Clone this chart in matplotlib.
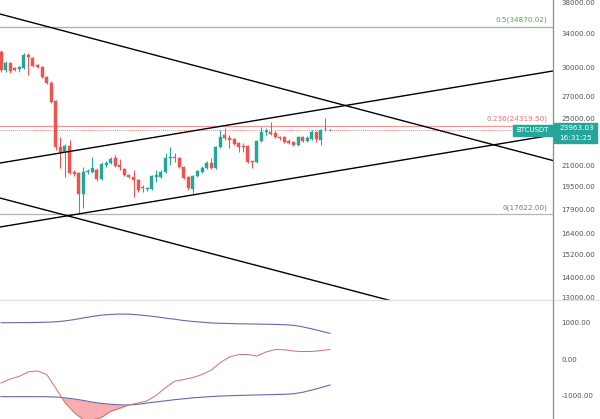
import numpy as np
import matplotlib
matplotlib.use("Agg")
import matplotlib.pyplot as plt
from matplotlib.patches import Rectangle
from matplotlib.lines import Line2D

# ---- candles (BTCUSDT) ----
opens = [31800, 29780, 30540, 29950, 29890, 29990, 31450, 31110, 30320, 30100,
         29030, 28400, 26600, 22510, 22100, 22590, 20510, 20470, 18960, 20510,
         20550, 20700, 20030, 21080, 21230, 21620, 21080, 20770, 20320, 20180,
         19950, 19420, 19280, 19310, 20210, 20180, 20550, 21580, 21660, 21620,
         20930, 20180, 19310, 20250, 20550, 20850, 21230, 20850, 22510, 23510,
         23260, 23170, 22830, 22550, 22590, 21350, 21310, 23000, 23720, 23770,
         23680, 23300, 23340, 23000, 22920, 22670, 23340, 23000, 23170, 23770,
         23080, 23990, 23900]
highs = [32030, 30770, 30660, 30100, 30210, 31680, 31680, 31220, 30430, 30210,
         29140, 28610, 26700, 23340, 22750, 23080, 20700, 20550, 20930, 20770,
         21700, 20850, 21310, 21380, 21700, 21860, 21540, 20850, 20400, 20700,
         20030, 19600, 19450, 20320, 20700, 20700, 22020, 22510, 22020, 21700,
         21000, 20250, 20320, 20700, 21000, 21380, 21620, 22590, 23940, 24110,
         23510, 23260, 22920, 22830, 22670, 21380, 23080, 24200, 24110, 24650,
         23850, 23430, 23430, 23170, 23000, 23430, 23430, 23430, 23940, 23850,
         24030, 25000, 24010]
lows = [29560, 29560, 29460, 29670, 29560, 29890, 29240, 30100, 29990, 28920,
        28300, 26410, 22260, 20850, 20180, 20400, 20250, 17622, 18020, 20400,
        20470, 19880, 19950, 20930, 21150, 20930, 20700, 20250, 20100, 18760,
        19100, 19100, 19170, 19240, 19810, 20100, 20470, 21080, 21310, 20850,
        20030, 19240, 19030, 20180, 20470, 20770, 20770, 20770, 22420, 23080,
        22420, 22670, 22100, 22100, 21230, 20850, 21230, 22920, 23510, 23510,
        23260, 23080, 22830, 22750, 22590, 22590, 22920, 22920, 23080, 22920,
        22670, 23850, 23880]
closes = [29780, 30540, 29670, 29830, 30100, 31450, 31220, 30210, 30100, 29030,
          28400, 26510, 22510, 22100, 22590, 20470, 20430, 18960, 20550, 20590,
          20850, 20030, 21150, 21230, 21540, 21000, 20930, 20320, 20180, 19950,
          19240, 19350, 19350, 20250, 20290, 20550, 21620, 21660, 21580, 20930,
          20100, 19380, 20250, 20620, 20850, 21230, 20850, 22510, 23340, 23260,
          23080, 22750, 22510, 22460, 21310, 21270, 23000, 23770, 23810, 23600,
          23340, 23210, 22920, 22830, 22670, 23340, 23000, 23260, 23770, 23170,
          23940, 24030, 23963.03]

price_ticks = [38000, 34000, 30000, 27000, 25000, 21000, 19500, 17900, 16400, 15200, 14000, 13000]
last_price = 23963.03
fib_levels = [34870.02, 24319.50, 17622.00]
fib_names = ["0.5(34870.02)", "0.236(24319.50)", "0(17622.00)"]

# trend lines: (bar index, price) anchors
trend_lines = [
    ([-1, 121], [36630, 21400]),
    ([-1, 121], [21180, 29690]),
    ([-1, 121], [16780, 23520]),
    ([-1, 90], [18750, 12600]),
]

# ---- lower indicator ----
ind_idx = list(range(0, 73, 2))
upper_band = [980, 982, 983, 985, 988, 995, 1005, 1030, 1065, 1110, 1150, 1185, 1205,
              1215, 1212, 1195, 1170, 1140, 1105, 1075, 1040, 1015, 995, 975, 965,
              958, 952, 948, 945, 940, 935, 928, 910, 870, 815, 755, 694]
lower_band = [-1018, -1018, -1018, -1018, -1018, -1020, -1028, -1050, -1080, -1120,
              -1165, -1200, -1225, -1240, -1243, -1225, -1190, -1160, -1130, -1100,
              -1075, -1050, -1032, -1015, -1002, -993, -985, -978, -972, -966, -960,
              -955, -940, -900, -840, -775, -703]
osc = [-650, -540, -470, -345, -325, -420, -790, -1180, -1450, -1640, -1640, -1580,
       -1415, -1330, -1240, -1190, -1130, -980, -775, -600, -555, -500, -420, -300,
       -95, 55, 120, 120, 80, 190, 255, 250, 215, 200, 205, 225, 260]
ind_ticks = [1000, 0, -1000]

UP = "#26a69a"
DOWN = "#ef5350"
TXT = "#50535e"

W, H = 600, 419
fig = plt.figure(figsize=(6, 4.19), dpi=100)
fig.patch.set_facecolor("white")

def fx(px):
    return px / W

def fy(py):
    return 1 - py / H

split = 300
axr = 553
ax = fig.add_axes([0, fy(split), fx(axr), 1 - fy(split)])
ax2 = fig.add_axes([0, 0, fx(axr), fy(split)])

# ---- main pane ----
ax.set_yscale("log")
x = np.arange(len(opens))
o = np.array(opens); c = np.array(closes)
cols = np.where(c >= o, UP, DOWN)
ax.vlines(x, lows, highs, colors=cols, linewidth=0.75, zorder=3)
bottoms = np.minimum(o, c)
heights = np.maximum(np.abs(c - o), 25)
ax.bar(x, heights, bottom=bottoms, width=0.66, color=cols, edgecolor=cols,
       linewidth=0.3, zorder=4)

for xs, ys in trend_lines:
    ax.plot(xs, ys, color="black", linewidth=1.0, zorder=5)

fib_cols = ["#81c784", "#ef9a9a", "#b2b5be"]
fib_txt = ["#4caf50", "#e57373", "#787b86"]
for lvl, name, lc, tc in zip(fib_levels, fib_names, fib_cols, fib_txt):
    ax.axhline(lvl, color=lc, linewidth=0.9, zorder=2)
    ax.text(0.99, lvl * 1.012, name, transform=ax.get_yaxis_transform(),
            ha="right", va="bottom", fontsize=5.2, color=tc)

ax.axhline(last_price, color=DOWN, linewidth=0.6, linestyle=(0, (1, 1.5)), zorder=2)

ax.set_xlim(-0.22, 120.8)
ax.set_ylim(12894, 38417)
ax.set_yticks(price_ticks)
ax.set_yticklabels([f"{t:.2f}" for t in price_ticks])
ax.minorticks_off()
ax.yaxis.tick_right()
ax.tick_params(axis="y", length=0, pad=6, labelsize=5.1, labelcolor=TXT)
ax.set_xticks([])
for s in ax.spines.values():
    s.set_visible(False)

# ---- indicator pane ----
ax2.fill_between(ind_idx, osc, lower_band, where=np.array(osc) < np.array(lower_band),
                 interpolate=True, color="#f6aeae", linewidth=0, zorder=1)
ax2.plot(ind_idx, upper_band, color="#6468b0", linewidth=0.8, zorder=3)
ax2.plot(ind_idx, lower_band, color="#6468b0", linewidth=0.8, zorder=3)
ax2.plot(ind_idx, osc, color="#cf6f6a", linewidth=0.7, zorder=3)
ax2.set_xlim(-0.22, 120.8)
ax2.set_ylim(-1622, 1595)
ax2.set_yticks(ind_ticks)
ax2.set_yticklabels([f"{t:.2f}" for t in ind_ticks])
ax2.yaxis.tick_right()
ax2.tick_params(axis="y", length=0, pad=6, labelsize=5.1, labelcolor=TXT)
ax2.set_xticks([])
for s in ax2.spines.values():
    s.set_visible(False)

# separators
fig.add_artist(Line2D([0, 1], [fy(split), fy(split)], color="#e0e3eb", linewidth=1.0))
fig.add_artist(Line2D([fx(axr), fx(axr)], [0, 1], color="#8a8d96", linewidth=0.9))

# last price labels
fig.add_artist(Rectangle((fx(513), fy(136)), fx(553) - fx(513), fy(125) - fy(136),
                         color=UP, zorder=10))
fig.text(fx(533), fy(130.5), "BTCUSDT", ha="center", va="center", fontsize=5.0,
         color="white", zorder=11)
fig.add_artist(Rectangle((fx(554), fy(143)), fx(597) - fx(554), fy(123) - fy(143),
                         color=UP, zorder=10))
fig.text(fx(559), fy(128.5), f"{last_price:.2f}", ha="left", va="center",
         fontsize=5.2, color="white", zorder=11)
fig.text(fx(559), fy(138), "16:31:25", ha="left", va="center", fontsize=5.2,
         color="white", zorder=11)

fig.savefig("out.png", dpi=100, facecolor="white")
